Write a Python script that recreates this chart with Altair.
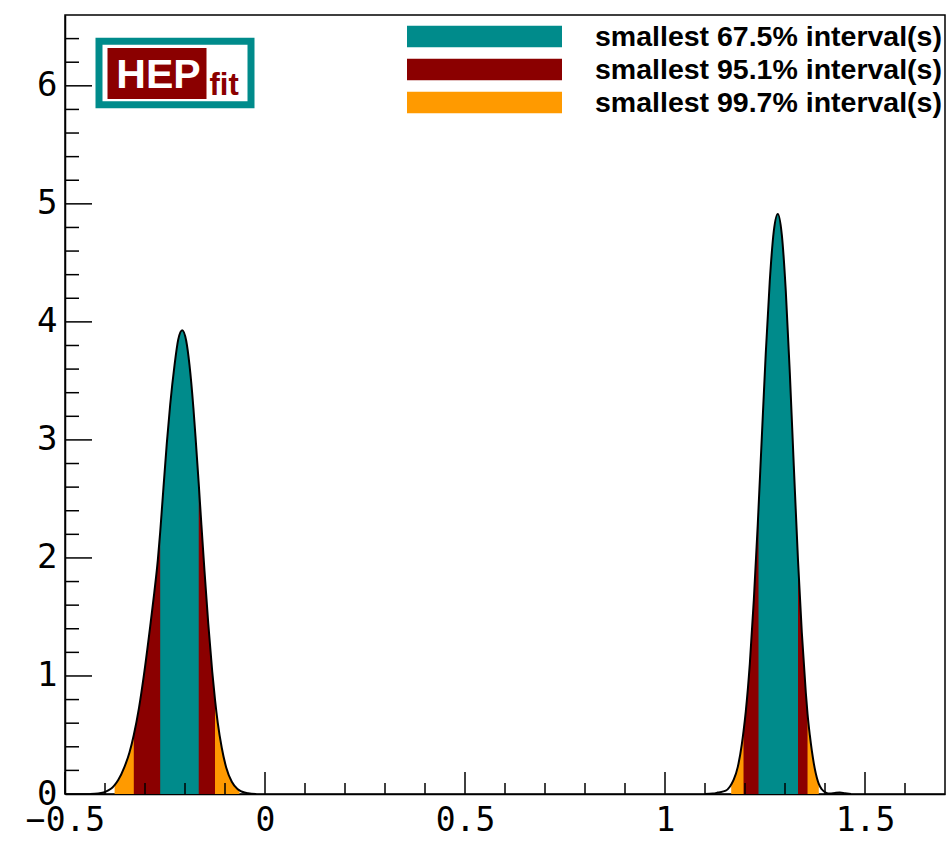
import altair as alt
import pandas as pd

# ---- data ----
band_labels = ["smallest 67.5% interval(s)", "smallest 95.1% interval(s)", "smallest 99.7% interval(s)"]
band_colors = ["#008b8b", "#8b0000", "#ff9a00"]

# left peak of the posterior
left_x = [-0.437, -0.417, -0.4013, -0.392, -0.3813, -0.376, -0.367, -0.3513, -0.339, -0.328,
          -0.315, -0.303, -0.287, -0.277, -0.268, -0.262, -0.257, -0.2455, -0.237, -0.2263,
          -0.217, -0.207, -0.197, -0.1888, -0.179, -0.1738, -0.1657, -0.159, -0.1513, -0.142,
          -0.132, -0.125, -0.118, -0.108, -0.097, -0.083, -0.0688, -0.0638, -0.057, -0.042, -0.022]
left_y = [0.0, 0.005, 0.015, 0.03, 0.055, 0.075, 0.118, 0.23, 0.35, 0.50,
          0.73, 1.0, 1.42, 1.70, 1.98, 2.22, 2.45, 2.97, 3.30, 3.63,
          3.85, 3.93, 3.84, 3.635, 3.27, 3.03, 2.63, 2.28, 1.89, 1.45,
          1.04, 0.80, 0.60, 0.39, 0.225, 0.104, 0.043, 0.031, 0.019, 0.006, 0.0]

# right peak of the posterior
right_x = [1.10, 1.12, 1.132, 1.152, 1.162, 1.1655, 1.172, 1.182, 1.192, 1.1963,
           1.202, 1.212, 1.222, 1.232, 1.2338, 1.242, 1.252, 1.262, 1.272, 1.282,
           1.292, 1.302, 1.312, 1.322, 1.3325, 1.342, 1.352, 1.3563, 1.362, 1.372,
           1.382, 1.3845, 1.392, 1.402, 1.412, 1.425, 1.437, 1.45, 1.465]
right_y = [0.0, 0.004, 0.012, 0.028, 0.061, 0.08, 0.123, 0.23, 0.42, 0.53,
           0.70, 1.10, 1.64, 2.29, 2.42, 3.02, 3.74, 4.35, 4.77, 4.915,
           4.74, 4.26, 3.57, 2.78, 1.98, 1.37, 0.86, 0.68, 0.50, 0.26,
           0.11, 0.085, 0.04, 0.012, 0.004, 0.009, 0.012, 0.006, 0.0]

# smallest intervals (order as band_labels)
left_lo = [-0.262, -0.328, -0.376]
left_hi = [-0.1657, -0.125, -0.0638]
right_lo = [1.2338, 1.1963, 1.1655]
right_hi = [1.3325, 1.3563, 1.3845]

x_major = [-0.5, 0, 0.5, 1, 1.5]
x_minor = [-0.4, -0.3, -0.2, -0.1, 0.1, 0.2, 0.3, 0.4, 0.6, 0.7, 0.8, 0.9,
           1.1, 1.2, 1.3, 1.4, 1.6]
y_major = [0, 1, 2, 3, 4, 5, 6]
y_minor = [0.2, 0.4, 0.6, 0.8, 1.2, 1.4, 1.6, 1.8, 2.2, 2.4, 2.6, 2.8, 3.2, 3.4, 3.6, 3.8,
           4.2, 4.4, 4.6, 4.8, 5.2, 5.4, 5.6, 5.8, 6.2, 6.4]

# ---- tables ----
curve = pd.DataFrame({
    "x": left_x + right_x,
    "y": left_y + right_y,
    "peak": ["L"] * len(left_x) + ["R"] * len(right_x),
})

rows = []
for label, llo, lhi, rlo, rhi in zip(band_labels, left_lo, left_hi, right_lo, right_hi):
    for peak, xs, ys, lo, hi in (("L", left_x, left_y, llo, lhi), ("R", right_x, right_y, rlo, rhi)):
        for xv, yv in zip(xs, ys):
            if lo - 1e-9 <= xv <= hi + 1e-9:
                rows.append({"x": xv, "y": yv, "band": label, "seg": label + peak})
bands = pd.DataFrame(rows)

W, H = 880, 779
xscale = alt.Scale(domain=[-0.5, 1.7], nice=False, zero=False)
yscale = alt.Scale(domain=[0, 6.6], nice=False, zero=False)
cscale = alt.Scale(domain=band_labels, range=band_colors)

legend = alt.Legend(
    title=None, orient="none", legendX=342, legendY=7.5, padding=0,
    symbolType="M-1,-0.139H1V0.139H-1Z", symbolSize=24025, symbolStrokeWidth=0,
    symbolOpacity=1, clipHeight=28, rowPadding=4,
    labelFont="Liberation Sans", labelFontWeight="bold", labelFontSize=28.5,
    labelColor="black", labelOffset=33, labelLimit=0,
)

x_axis = alt.Axis(values=x_major, format="~g", title=None, labelFlush=False,
                  labelOverlap=False, labelPadding=10, labelFontSize=33,
                  ticks=False, tickSize=0, grid=False)
y_axis = alt.Axis(values=y_major, format="~g", title=None, labelPadding=8,
                  labelOverlap=False, ticks=False, tickSize=0, grid=False)

X = alt.X("x:Q", scale=xscale, axis=x_axis)
Y = alt.Y("y:Q", scale=yscale, axis=y_axis, stack=None)

layers = []
for label in reversed(band_labels):
    layers.append(
        alt.Chart(bands[bands["band"] == label]).mark_area(interpolate="monotone", opacity=1).encode(
            x=X, y=Y,
            color=alt.Color("band:N", scale=cscale, legend=legend),
            detail="seg:N",
        )
    )

outline = alt.Chart(curve).mark_line(interpolate="monotone", color="black", strokeWidth=2).encode(
    x=X, y=Y, detail="peak:N",
)
layers.append(outline)

# inward ticks (ROOT style)
def xticks(vals, length):
    return alt.Chart(pd.DataFrame({"x": vals})).mark_rule(color="black", strokeWidth=1.5).encode(
        x=X, y=alt.value(H), y2=alt.value(H - length))

def yticks(vals, length):
    return alt.Chart(pd.DataFrame({"y": vals})).mark_rule(color="black", strokeWidth=1.5).encode(
        y=Y, x=alt.value(0), x2=alt.value(length))

layers += [xticks(x_major, 22), xticks(x_minor, 11), yticks(y_major, 27), yticks(y_minor, 14)]

# HEPfit logo
one = pd.DataFrame({"k": [0]})
teal, dred = "#008b8b", "#8b0000"
layers += [
    alt.Chart(one).mark_rect(fill="white", stroke=teal, strokeWidth=7).encode(
        x=alt.value(34), x2=alt.value(186), y=alt.value(26.2), y2=alt.value(89.8)),
    alt.Chart(one).mark_rect(fill=dred).encode(
        x=alt.value(42.5), x2=alt.value(141.5), y=alt.value(33), y2=alt.value(84)),
    alt.Chart(one).mark_text(text="HEP", font="Liberation Sans", fontWeight="bold", fontSize=41,
                             color="white", align="center", baseline="alphabetic").encode(
        x=alt.value(93.5), y=alt.value(73)),
    alt.Chart(one).mark_text(text="fit", font="Liberation Sans", fontWeight="bold", fontSize=31,
                             color=dred, align="left", baseline="alphabetic").encode(
        x=alt.value(144.5), y=alt.value(80)),
]

chart = alt.layer(*layers).properties(
    width=W, height=H,
    padding={"left": 65, "top": 15, "right": 1, "bottom": 47},
    autosize=alt.AutoSizeParams(type="none"),
    background="white",
).configure_axis(
    labelFont="DejaVu Sans Mono", labelFontSize=34, labelColor="black",
    domainColor="black", domainWidth=1.5, grid=False,
).configure_view(stroke="black", strokeWidth=1.5)

chart.save("out.html", embed_options={"renderer": "svg", "actions": False})
